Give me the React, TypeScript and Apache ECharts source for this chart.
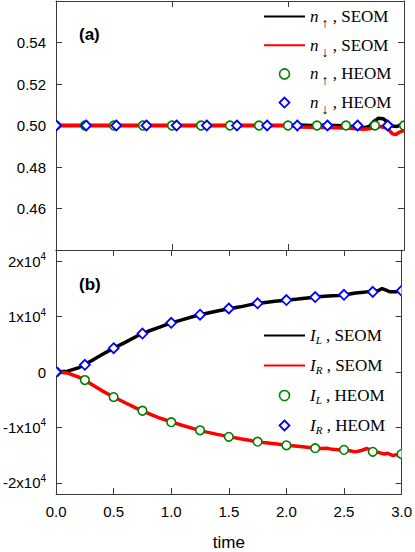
import React, { useEffect, useRef } from 'react';
import * as echarts from 'echarts';

// ---------- Panel (a) data ----------
const timeUpSEOM = [0, 2.0, 2.1, 2.2, 2.3, 2.4, 2.5, 2.58, 2.64, 2.7, 2.74, 2.78, 2.82, 2.86, 2.9, 2.94, 2.97, 3.0];
const nUpSEOM = [0.5, 0.5, 0.5002, 0.5, 0.5001, 0.5, 0.4999, 0.4993, 0.4987, 0.4995, 0.502, 0.5035, 0.5033, 0.5015, 0.4998, 0.4995, 0.5003, 0.5006];

const timeDownSEOM = [0, 2.0, 2.1, 2.3, 2.5, 2.65, 2.7, 2.8, 2.86, 2.9, 2.93, 2.96, 3.0];
const nDownSEOM = [0.5, 0.5, 0.4993, 0.499, 0.4988, 0.4982, 0.4984, 0.4995, 0.4985, 0.496, 0.4956, 0.4968, 0.4975];

const timeUpHEOM = [0, 0.25, 0.5, 0.75, 1.0, 1.25, 1.5, 1.75, 2.0, 2.25, 2.5, 2.75, 3.0];
const nUpHEOM = [0.5, 0.5, 0.5, 0.5, 0.5, 0.5, 0.5, 0.5, 0.5, 0.5, 0.5, 0.5, 0.5];

const timeDownHEOM = [0, 0.26, 0.52, 0.78, 1.04, 1.3, 1.56, 1.82, 2.08, 2.34, 2.6, 2.86];
const nDownHEOM = [0.5, 0.5, 0.5, 0.5, 0.5, 0.5, 0.5, 0.5, 0.5, 0.5, 0.5, 0.5];

// ---------- Panel (b) data ----------
const timeILSEOM = [0, 0.1, 0.2, 0.3, 0.4, 0.5, 0.6, 0.7, 0.8, 0.9, 1.0, 1.1, 1.2, 1.3, 1.4, 1.5, 1.6, 1.7, 1.8, 1.9, 2.0, 2.1, 2.2, 2.3, 2.4, 2.45, 2.5, 2.55, 2.6, 2.65, 2.7, 2.75, 2.8, 2.83, 2.86, 2.9, 2.95, 3.0];
const ILSEOM = [0, 150, 800, 1950, 3150, 4300, 5350, 6450, 7350, 8100, 8850, 9450, 10050, 10550, 11000, 11400, 11750, 12200, 12500, 12750, 12950, 13150, 13400, 13600, 13750, 13800, 13900, 14050, 14250, 14350, 14450, 14450, 14700, 15050, 14800, 14450, 14450, 14700];

const timeIRSEOM = [0, 0.1, 0.2, 0.3, 0.4, 0.5, 0.6, 0.7, 0.8, 0.9, 1.0, 1.1, 1.2, 1.3, 1.4, 1.5, 1.6, 1.7, 1.8, 1.9, 2.0, 2.1, 2.2, 2.3, 2.35, 2.4, 2.45, 2.5, 2.55, 2.6, 2.65, 2.7, 2.75, 2.8, 2.85, 2.88, 2.92, 2.96, 3.0];
const IRSEOM = [0, -200, -950, -2100, -3400, -4500, -5550, -6550, -7450, -8300, -9000, -9650, -10250, -10800, -11250, -11650, -12050, -12400, -12700, -12950, -13200, -13400, -13600, -13800, -13750, -13950, -14000, -14100, -14200, -14400, -14150, -13800, -14300, -14500, -14800, -14650, -15050, -14900, -15000];

const timeHEOMb = [0, 0.25, 0.5, 0.75, 1.0, 1.25, 1.5, 1.75, 2.0, 2.25, 2.5, 2.75, 3.0];
const ILHEOM = [0, -1450, -4520, -6990, -9050, -10510, -11690, -12570, -13220, -13740, -14040, -14390, -14800];
const IRHEOM = [0, 1300, 4290, 6930, 8870, 10340, 11450, 12390, 12980, 13510, 13920, 14450, 14650];

// ---------- Tick labels ----------
const xTicksB = [0, 0.5, 1.0, 1.5, 2.0, 2.5, 3.0];
const yTicksA = [0.46, 0.48, 0.5, 0.52, 0.54];
const yTicksB = [-20000, -10000, 0, 10000, 20000];

const zip = (xs: number[], ys: number[]) => xs.map((x, i) => [x, ys[i]]);

const AX = '#3a3a3a';
const GREEN = '#008000';
const BLUE = '#0000ff';
const RED = '#ff0000';
const SANS = 'Liberation Sans, Arial, sans-serif';
const SERIF = 'Liberation Serif, Times New Roman, serif';
const LW = 3.5;

// legend diamond icon in a 41x10 box (diamond centred, 10 wide)
const DIAMOND_ICON = 'path://M0,0M20.5,0L25.5,5L20.5,10L15.5,5ZM41,10';

const clipRect = (params: any) => {
  const c = params.coordSys;
  return { type: 'rect', shape: { x: c.x, y: c.y, width: c.width, height: c.height } };
};

const circleItem = (params: any, api: any) => {
  const p = api.coord([api.value(0), api.value(1)]);
  return {
    type: 'group',
    clipPath: clipRect(params),
    children: [{
      type: 'circle',
      shape: { cx: p[0], cy: p[1], r: 4.3 },
      style: { fill: '#fff', stroke: GREEN, lineWidth: 1.6 },
    }],
  };
};
const diamondItem = (params: any, api: any) => {
  const p = api.coord([api.value(0), api.value(1)]);
  const d = 5;
  return {
    type: 'group',
    clipPath: clipRect(params),
    children: [{
      type: 'polygon',
      shape: { points: [[p[0], p[1] - d], [p[0] + d, p[1]], [p[0], p[1] + d], [p[0] - d, p[1]]] },
      style: { fill: '#fff', stroke: BLUE, lineWidth: 1.8 },
    }],
  };
};

const legendLabelsA: Record<string, string> = {
  'n↑ SEOM': '{it|n}{sa|↑}{tx| , SEOM}',
  'n↓ SEOM': '{it|n}{sa|↓}{tx| , SEOM}',
  'n↑ HEOM': '{it|n}{sa|↑}{tx| , HEOM}',
  'n↓ HEOM': '{it|n}{sa|↓}{tx| , HEOM}',
};
const legendLabelsB: Record<string, string> = {
  'IL SEOM': '{it|I}{sl|L}{tx| , SEOM}',
  'IR SEOM': '{it|I}{sl|R}{tx| , SEOM}',
  'IL HEOM': '{it|I}{sl|L}{tx| , HEOM}',
  'IR HEOM': '{it|I}{sl|R}{tx| , HEOM}',
};

const circleLegendStyle = { color: '#fff', borderColor: GREEN, borderWidth: 1.6 };
const diamondLegendStyle = { color: '#fff', borderColor: BLUE, borderWidth: 1.8 };
const hiddenSymbolStyle = { color: 'rgba(0,0,0,0)', borderWidth: 0, opacity: 0 };

function baseAxis(gridIndex: number) {
  return {
    gridIndex,
    splitLine: { show: false },
    axisLine: { show: true, onZero: false, lineStyle: { color: AX, width: 1 } },
    axisTick: { show: true, inside: true, length: 6, lineStyle: { color: AX, width: 1 } },
  };
}

export default function App() {
  const ref = useRef<HTMLDivElement>(null);
  useEffect(() => {
    if (!ref.current) return;
    const chart = echarts.init(ref.current, undefined, { renderer: 'svg' });
    const option: any = {
      animation: false,
      backgroundColor: '#fff',
      grid: [
        { left: 56, right: 11, top: 1, height: 249 },
        { left: 56, right: 11, top: 250, height: 248 },
      ],
      xAxis: [
        { ...baseAxis(0), type: 'value', position: 'bottom', min: 0, max: 3, interval: 1, axisLabel: { show: false } },
        { ...baseAxis(0), type: 'value', position: 'top', min: 0, max: 3, interval: 1, axisLabel: { show: false } },
        {
          ...baseAxis(1), type: 'value', position: 'bottom', min: 0, max: 3, interval: 0.5,
          axisTick: { show: true, inside: true, length: 6, lineStyle: { color: AX }, customValues: xTicksB },
          axisLabel: {
            show: true, margin: 10, color: '#000', fontSize: 15, fontFamily: SANS,
            customValues: xTicksB,
            formatter: (v: number) => v.toFixed(1),
          },
          name: 'time', nameLocation: 'middle', nameGap: 40,
          nameTextStyle: { color: '#000', fontSize: 17, fontFamily: SANS },
        },
        { ...baseAxis(1), type: 'value', position: 'top', min: 0, max: 3, interval: 0.5, axisLabel: { show: false } },
      ],
      yAxis: [
        {
          ...baseAxis(0), type: 'value', position: 'left', min: 0.44, max: 0.56, interval: 0.02,
          axisTick: { show: true, inside: true, length: 6, lineStyle: { color: AX }, customValues: yTicksA },
          axisLabel: {
            show: true, margin: 10, color: '#000', fontSize: 15, fontFamily: SANS,
            customValues: yTicksA,
            formatter: (v: number) => v.toFixed(2),
          },
        },
        {
          ...baseAxis(0), type: 'value', position: 'right', min: 0.44, max: 0.56, interval: 0.02,
          axisTick: { show: true, inside: true, length: 6, lineStyle: { color: AX }, customValues: yTicksA },
          axisLabel: { show: false },
        },
        {
          ...baseAxis(1), type: 'value', position: 'left', min: -22000, max: 22000,
          axisTick: { show: true, inside: true, length: 6, lineStyle: { color: AX }, customValues: yTicksB },
          axisLabel: {
            show: true, margin: 10, color: '#000', fontSize: 15, fontFamily: SANS,
            customValues: yTicksB,
            formatter: (v: number) => {
              if (v === 0) return '{m|0}';
              const s = (v < 0 ? '-' : '') + Math.abs(v / 10000) + 'x10';
              return '{m|' + s + '}{sup|4}';
            },
            rich: {
              m: { fontSize: 15, fontFamily: SANS, color: '#000' },
              sup: { fontSize: 10, fontFamily: SANS, color: '#000', padding: [0, 0, 9, 0] },
            },
          },
        },
        {
          ...baseAxis(1), type: 'value', position: 'right', min: -22000, max: 22000,
          axisTick: { show: true, inside: true, length: 6, lineStyle: { color: AX }, customValues: yTicksB },
          axisLabel: { show: false },
        },
      ],
      legend: [
        {
          orient: 'vertical', left: 263, top: 8, padding: 0, itemGap: 6.2,
          itemWidth: 41, itemHeight: 10, selectedMode: false, symbolKeepAspect: true,
          data: [
            { name: 'n↑ SEOM', itemStyle: hiddenSymbolStyle },
            { name: 'n↓ SEOM', itemStyle: hiddenSymbolStyle },
            { name: 'n↑ HEOM', icon: 'circle', itemStyle: circleLegendStyle },
            { name: 'n↓ HEOM', icon: DIAMOND_ICON, itemStyle: diamondLegendStyle },
          ],
          formatter: (name: string) => legendLabelsA[name],
          textStyle: {
            color: '#000',
            rich: {
              it: { fontFamily: SERIF, fontStyle: 'italic', fontSize: 17, color: '#000' },
              sa: { fontFamily: SERIF, fontSize: 14, color: '#000', padding: [14, 0, 0, 3] },
              tx: { fontFamily: SERIF, fontSize: 17, color: '#000' },
            },
          },
        },
        {
          orient: 'vertical', left: 263, top: 327, padding: 0, itemGap: 12,
          itemWidth: 41, itemHeight: 10, selectedMode: false, symbolKeepAspect: true,
          data: [
            { name: 'IL SEOM', itemStyle: hiddenSymbolStyle },
            { name: 'IR SEOM', itemStyle: hiddenSymbolStyle },
            { name: 'IL HEOM', icon: 'circle', itemStyle: circleLegendStyle },
            { name: 'IR HEOM', icon: DIAMOND_ICON, itemStyle: diamondLegendStyle },
          ],
          formatter: (name: string) => legendLabelsB[name],
          textStyle: {
            color: '#000',
            rich: {
              it: { fontFamily: SERIF, fontStyle: 'italic', fontSize: 17, color: '#000' },
              sl: { fontFamily: SERIF, fontStyle: 'italic', fontSize: 11, color: '#000', padding: [8, 0, 0, 0] },
              tx: { fontFamily: SERIF, fontSize: 17, color: '#000' },
            },
          },
        },
      ],
      graphic: [
        { type: 'text', left: 79, top: 26, style: { text: '(a)', font: 'bold 17px Liberation Sans', fill: '#000' } },
        { type: 'text', left: 79, top: 276, style: { text: '(b)', font: 'bold 17px Liberation Sans', fill: '#000' } },
      ],
      series: [
        {
          name: 'n↑ SEOM', type: 'line', xAxisIndex: 0, yAxisIndex: 0, data: zip(timeUpSEOM, nUpSEOM),
          showSymbol: false, symbol: 'none', lineStyle: { color: '#000', width: LW }, itemStyle: { color: '#000' }, z: 2,
        },
        {
          name: 'n↓ SEOM', type: 'line', xAxisIndex: 0, yAxisIndex: 0, data: zip(timeDownSEOM, nDownSEOM),
          showSymbol: false, symbol: 'none', lineStyle: { color: RED, width: LW }, itemStyle: { color: RED }, z: 2,
        },
        {
          name: 'n↑ HEOM', type: 'custom', xAxisIndex: 0, yAxisIndex: 0, data: zip(timeUpHEOM, nUpHEOM),
          renderItem: circleItem, clip: true, itemStyle: circleLegendStyle, z: 3,
        },
        {
          name: 'n↓ HEOM', type: 'custom', xAxisIndex: 0, yAxisIndex: 0, data: zip(timeDownHEOM, nDownHEOM),
          renderItem: diamondItem, clip: true, itemStyle: diamondLegendStyle, z: 4,
        },
        {
          name: 'IL SEOM', type: 'line', xAxisIndex: 2, yAxisIndex: 2, data: zip(timeILSEOM, ILSEOM),
          showSymbol: false, symbol: 'none', lineStyle: { color: '#000', width: LW }, itemStyle: { color: '#000' }, z: 2,
        },
        {
          name: 'IR SEOM', type: 'line', xAxisIndex: 2, yAxisIndex: 2, data: zip(timeIRSEOM, IRSEOM),
          showSymbol: false, symbol: 'none', lineStyle: { color: RED, width: LW }, itemStyle: { color: RED }, z: 2,
        },
        {
          name: 'IL HEOM', type: 'custom', xAxisIndex: 2, yAxisIndex: 2, data: zip(timeHEOMb, ILHEOM),
          renderItem: circleItem, clip: true, itemStyle: circleLegendStyle, z: 3,
        },
        {
          name: 'IR HEOM', type: 'custom', xAxisIndex: 2, yAxisIndex: 2, data: zip(timeHEOMb, IRHEOM),
          renderItem: diamondItem, clip: true, itemStyle: diamondLegendStyle, z: 4,
        },
      ],
    };
    chart.setOption(option);
    return () => chart.dispose();
  }, []);
  return <div ref={ref} style={{ position: 'absolute', left: 0, top: 0, width: 415, height: 552 }} />;
}
